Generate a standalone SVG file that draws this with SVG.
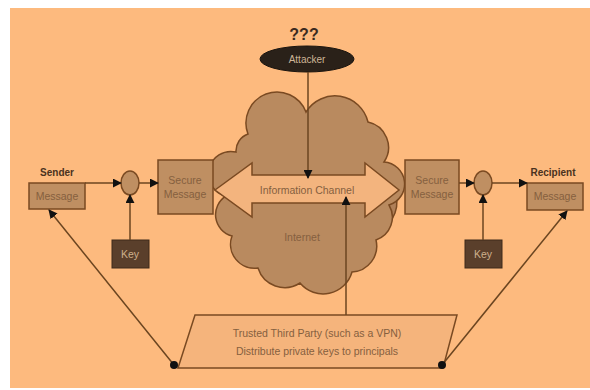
<svg xmlns="http://www.w3.org/2000/svg" width="590" height="390" viewBox="0 0 590 390">
<defs>
<style>
text{font-family:"Liberation Sans",Arial,sans-serif;text-anchor:middle}
.box{fill:#bf8f62;stroke:#7a4a22;stroke-width:1.5}
.key{fill:#5a3f2b;stroke:#3e2a1a;stroke-width:1}
.lbl{font-size:10.5px;fill:#85603f}
.keyt{font-size:10.5px;fill:#cdb08c}
.hdr{font-size:10px;font-weight:bold;fill:#4a3220}
.ln{stroke:#6b4520;stroke-width:1.5;fill:none}
.dot{fill:#111}
</style>
<marker id="ah" viewBox="0 0 10 10" refX="9" refY="5" markerWidth="9" markerHeight="9" markerUnits="userSpaceOnUse" orient="auto"><path d="M0,0 L10,5 L0,10 Z" fill="#111"/></marker>
</defs>
<rect x="0" y="0" width="590" height="390" fill="#ffffff"/>
<rect x="10" y="8" width="580" height="380" fill="#fdba7e"/>

<g id="cloud">
<path d="M374,160 A22,26 0 0 1 394,190 A22,26 0 0 1 380,228 Z" fill="#b08058" stroke="#7a4a22" stroke-width="1.5"/>
<path d="M248,134 A30,30 0 0 1 306,112 A34,34 0 0 1 368,122 A26,26 0 0 1 384,162 A22,22 0 0 1 389,205 A24,24 0 0 1 376,240 A26,26 0 0 1 352,272 A30,30 0 0 1 300,283 A28,28 0 0 1 258,268 A24,24 0 0 1 232,236 A22,22 0 0 1 226,196 A22,22 0 0 1 236,152 A18,18 0 0 1 248,134 Z" fill="#b98a5f" stroke="#7a4a22" stroke-width="1.5"/>
<text x="302" y="241" class="lbl">Internet</text>
</g>

<g id="channel">
<path d="M215,190 L252,163 L252,175 L365,175 L365,163 L399,190 L365,217 L365,203 L252,203 L252,217 Z" fill="#f3b47e" stroke="#7a4a22" stroke-width="1.5"/>
<text x="307" y="194" class="lbl">Information Channel</text>
</g>

<g id="attacker">
<text x="304" y="40" style="font-size:16px;font-weight:bold;fill:#3a2a1e">???</text>
<ellipse cx="307" cy="59" rx="47" ry="13" fill="#2a2119" stroke="#1a140e"/>
<text x="307" y="63" style="font-size:10px;fill:#cdb597">Attacker</text>
</g>

<g id="sender">
<text x="57" y="176" class="hdr">Sender</text>
<rect x="29" y="183" width="56" height="26" class="box"/>
<text x="57" y="200" class="lbl">Message</text>
</g>

<g id="enc">
<ellipse cx="130" cy="183" rx="9" ry="12" class="box"/>
</g>

<g id="key1">
<rect x="112" y="240" width="37" height="28" class="key"/>
<text x="130" y="258" class="keyt">Key</text>
</g>

<g id="secure1">
<rect x="158" y="160" width="55" height="54" class="box"/>
<text x="185" y="184" class="lbl">Secure</text>
<text x="185" y="198" class="lbl">Message</text>
</g>

<g id="secure2">
<rect x="405" y="160" width="54" height="54" class="box"/>
<text x="432" y="184" class="lbl">Secure</text>
<text x="432" y="198" class="lbl">Message</text>
</g>

<g id="dec">
<ellipse cx="483" cy="183" rx="9" ry="12" class="box"/>
</g>

<g id="key2">
<rect x="465" y="240" width="37" height="28" class="key"/>
<text x="483" y="258" class="keyt">Key</text>
</g>

<g id="recipient">
<text x="553" y="176" class="hdr">Recipient</text>
<rect x="527" y="183" width="56" height="27" class="box"/>
<text x="555" y="200" class="lbl">Message</text>
</g>

<g id="ttp">
<path d="M195,315 L457,315 L443,368 L178,368 Z" fill="#f5b47c" stroke="#7a4a22" stroke-width="1.5"/>
<text x="317" y="337" class="lbl">Trusted Third Party (such as a VPN)</text>
<text x="317" y="355" class="lbl">Distribute private keys to principals</text>
</g>

<g id="connectors">
<line x1="85" y1="183" x2="121" y2="183" class="ln" marker-end="url(#ah)"/>
<line x1="139" y1="183" x2="158" y2="183" class="ln" marker-end="url(#ah)"/>
<line x1="130" y1="240" x2="130" y2="195" class="ln" marker-end="url(#ah)"/>
<line x1="308" y1="72" x2="308" y2="178" class="ln" marker-end="url(#ah)"/>
<line x1="346" y1="315" x2="346" y2="197" class="ln" marker-end="url(#ah)"/>
<line x1="459" y1="183" x2="474" y2="183" class="ln" marker-end="url(#ah)"/>
<line x1="492" y1="183" x2="527" y2="183" class="ln" marker-end="url(#ah)"/>
<line x1="483" y1="240" x2="483" y2="195" class="ln" marker-end="url(#ah)"/>
<line x1="174" y1="365" x2="49" y2="210" class="ln" marker-end="url(#ah)"/>
<line x1="442" y1="365" x2="567" y2="211" class="ln" marker-end="url(#ah)"/>
<circle cx="174" cy="365" r="4" class="dot"/>
<circle cx="442" cy="365" r="4" class="dot"/>
</g>
</svg>
